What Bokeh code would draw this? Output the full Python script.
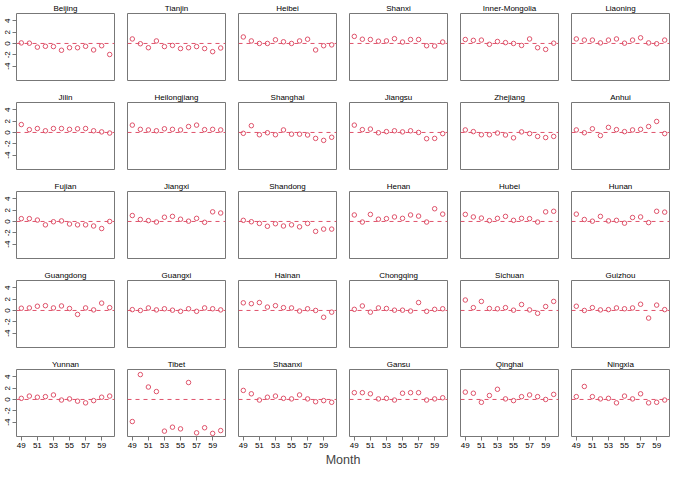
from bokeh.plotting import figure
from bokeh.layouts import gridplot, column
from bokeh.models import Range1d, Span, FixedTicker
from bokeh.embed import file_html
from bokeh.resources import INLINE

months = list(range(49, 61))
x_ticks = [49, 51, 53, 55, 57, 59]
y_ticks = [-4, -2, 0, 2, 4]

beijing = [0.1, 0.05, -0.65, -0.5, -0.55, -1.2, -0.75, -0.75, -0.5, -1.15, -0.4, -1.95]
tianjin = [0.8, -0.05, -0.75, 0.45, -0.55, -0.35, -0.9, -0.75, -0.55, -0.9, -1.45, -0.8]
heibei = [1.15, 0.45, 0.0, 0.0, 0.65, 0.3, 0.0, 0.45, 0.75, -1.15, -0.4, -0.25]
shanxi = [1.25, 0.75, 0.7, 0.4, 0.45, 0.85, 0.25, 0.7, 0.7, -0.4, -0.45, 0.25]
inner_mongolia = [0.7, 0.55, 0.6, -0.15, 0.35, 0.15, 0.0, -0.35, 0.8, -0.75, -1.05, 0.05]
liaoning = [0.8, 0.6, 0.6, 0.1, 0.6, 0.8, 0.05, 0.6, 1.0, 0.1, -0.05, 0.6]
jilin = [1.4, 0.5, 0.7, 0.3, 0.7, 0.7, 0.55, 0.65, 0.7, 0.3, 0.1, -0.1]
heilongjiang = [1.3, 0.55, 0.45, 0.3, 0.65, 0.55, 0.45, 1.05, 1.3, 0.5, 0.55, 0.45]
shanghai = [-0.15, 1.2, -0.4, -0.05, -0.4, 0.45, -0.3, -0.3, -0.45, -1.05, -1.4, -0.85]
jiangsu = [1.3, 0.5, 0.6, -0.05, 0.15, 0.3, 0.1, 0.3, 0.0, -1.1, -1.05, -0.2]
zhejiang = [0.45, 0.15, -0.4, -0.4, -0.1, -0.45, -0.95, 0.1, -0.2, -0.7, -0.9, -0.7]
anhui = [0.45, -0.05, 0.65, -0.55, 0.9, 0.5, 0.15, 0.45, 0.55, 1.05, 1.95, -0.2]
fujian = [0.5, 0.5, 0.25, -0.6, -0.05, 0.1, -0.45, -0.6, -0.6, -0.8, -1.25, 0.0]
jiangxi = [1.05, 0.35, 0.15, -0.1, 0.75, 0.9, 0.4, 0.05, 0.55, -0.15, 1.7, 1.5]
shandong = [0.2, -0.05, -0.35, -0.85, -0.4, -0.8, -0.6, -0.95, -0.35, -1.75, -1.35, -1.35]
henan = [1.15, -0.1, 1.25, 0.4, 0.5, 0.8, 0.55, 1.15, 0.95, -0.1, 2.25, 1.3]
hubei = [1.25, 0.8, 0.6, 0.15, 0.55, 0.9, 0.2, 0.55, 0.5, -0.1, 1.7, 1.8]
hunan = [1.3, 0.35, 0.05, 0.9, 0.1, 0.2, -0.3, 0.7, 0.8, -0.2, 1.8, 1.65]
guangdong = [0.4, 0.45, 0.75, 0.85, 0.45, 0.8, 0.35, -0.7, 0.45, 0.1, 1.3, 0.5]
guangxi = [0.15, 0.0, 0.45, 0.1, 0.3, 0.05, -0.15, 0.3, -0.15, 0.45, 0.3, 0.1]
hainan = [1.35, 1.2, 1.4, 0.6, 0.85, 0.5, 0.45, -0.1, 0.3, 0.0, -1.2, -0.3]
chongqing = [0.2, 0.8, -0.3, 0.45, 0.35, 0.05, 0.05, -0.1, 1.4, -0.15, 0.2, 0.3]
sichuan = [1.85, 0.5, 1.6, 0.35, 0.3, 0.5, 0.05, 1.05, 0.1, -0.5, 0.7, 1.6]
guizhou = [0.75, 0.0, 0.5, 0.1, 0.15, 0.45, 0.3, 0.45, 1.1, -1.35, 0.95, 0.15]
yunnan = [0.2, 0.6, 0.4, 0.5, 0.8, -0.1, 0.1, -0.3, -0.6, -0.2, 0.4, 0.6]
tibet = [-3.9, 4.4, 2.2, 1.4, -5.6, -4.9, -5.2, 3.0, -5.9, -5.0, -6.0, -5.5]
shaanxi = [1.6, 1.0, -0.1, 0.4, 0.6, 0.2, 0.1, 0.8, 0.1, -0.4, -0.2, -0.5]
gansu = [1.2, 1.2, 1.0, 0.1, 0.2, -0.1, 1.1, 1.2, 1.2, -0.1, 0.1, 0.3]
qinghai = [1.3, 1.1, -0.5, 0.7, 1.8, 0.1, -0.2, 0.5, 0.8, 0.5, 0.0, 0.9]
ningxia = [0.5, 2.3, 0.5, 0.1, 0.2, -0.6, 0.6, 0.1, 1.0, -0.6, -0.5, -0.1]

provinces = [
    ("Beijing", beijing), ("Tianjin", tianjin), ("Heibei", heibei),
    ("Shanxi", shanxi), ("Inner-Mongolia", inner_mongolia), ("Liaoning", liaoning),
    ("Jilin", jilin), ("Heilongjiang", heilongjiang), ("Shanghai", shanghai),
    ("Jiangsu", jiangsu), ("Zhejiang", zhejiang), ("Anhui", anhui),
    ("Fujian", fujian), ("Jiangxi", jiangxi), ("Shandong", shandong),
    ("Henan", henan), ("Hubei", hubei), ("Hunan", hunan),
    ("Guangdong", guangdong), ("Guangxi", guangxi), ("Hainan", hainan),
    ("Chongqing", chongqing), ("Sichuan", sichuan), ("Guizhou", guizhou),
    ("Yunnan", yunnan), ("Tibet", tibet), ("Shaanxi", shaanxi),
    ("Gansu", gansu), ("Qinghai", qinghai), ("Ningxia", ningxia),
]

RED = "#DF536B"
FRAME = "#777777"
FONT = "Liberation Sans"
NCOL = 6
NROW = 5
FW, FH = 98, 67
LEFT_B, GAP_L, GAP_R = 16, 7, 6

rows = []
for r in range(NROW):
    row_figs = []
    for c in range(NCOL):
        name, vals = provinces[r * NCOL + c]
        first_col = c == 0
        last_row = r == NROW - 1
        p = figure(frame_width=FW, frame_height=FH,
                   x_range=Range1d(48.4, 60.6), y_range=Range1d(-6.55, 5.3),
                   output_backend="svg", toolbar_location=None,
                   x_axis_location="below" if last_row else None,
                   y_axis_location="left" if first_col else None,
                   min_border_left=LEFT_B if first_col else GAP_L,
                   min_border_right=GAP_R, min_border_top=0,
                   min_border_bottom=2 if last_row else 9,
                   outline_line_color=FRAME, outline_line_width=1,
                   background_fill_color="white", border_fill_color="white")
        p.title.text = name
        p.title.align = "center"
        p.title.text_font = FONT
        p.title.text_font_size = "8px"
        p.title.text_font_style = "normal"
        p.title.text_color = "black"
        p.title.standoff = 2
        p.grid.visible = False
        p.add_layout(Span(location=0, dimension="width", line_color=RED,
                          line_dash="4 4", line_width=1))
        p.scatter(x=months, y=vals, marker="circle", size=4.5,
                  fill_color=None, line_color=RED, line_width=1)
        if first_col:
            ax = p.yaxis[0]
            ax.ticker = FixedTicker(ticks=y_ticks)
            ax.major_label_overrides = {t: str(t) for t in y_ticks}
            ax.major_label_orientation = "vertical"
        if last_row:
            ax = p.xaxis[0]
            ax.ticker = FixedTicker(ticks=x_ticks)
        for ax in p.axis:
            ax.axis_line_color = None
            ax.major_tick_in = 0
            ax.major_tick_out = 4
            ax.major_tick_line_color = FRAME
            ax.minor_tick_line_color = None
            ax.major_label_text_font = FONT
            ax.major_label_text_font_size = "8px"
            ax.major_label_text_color = "black"
            ax.major_label_standoff = 2
        row_figs.append(p)
    rows.append(row_figs)

grid = gridplot(rows, toolbar_location=None)

label_fig = figure(frame_width=FW * NCOL + (GAP_L + GAP_R) * (NCOL - 1), frame_height=1,
                   min_border_left=LEFT_B, min_border_right=GAP_R,
                   min_border_top=0, min_border_bottom=0,
                   output_backend="svg", toolbar_location=None,
                   x_axis_location=None, y_axis_location=None,
                   outline_line_color=None)
label_fig.grid.visible = False
label_fig.title.text = "Month"
label_fig.title.align = "center"
label_fig.title.text_font = FONT
label_fig.title.text_font_size = "12.5px"
label_fig.title.text_font_style = "normal"
label_fig.title.standoff = 0

layout = column(grid, label_fig)
open("out.html", "w").write(file_html(layout, INLINE))
